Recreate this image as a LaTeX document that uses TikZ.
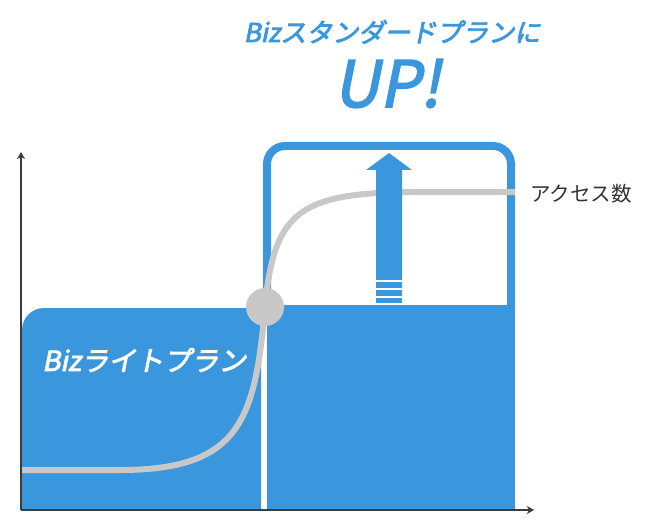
\documentclass[tikz,border=0pt]{standalone}
\usepackage{fontspec}
\usetikzlibrary{arrows.meta}
\newfontfamily\jp{Noto Sans CJK JP}
\newfontfamily\jpit{Noto Sans CJK JP}[FakeSlant=0.2, FakeBold=3]
\newfontfamily\jpup{Noto Sans CJK JP}[FakeSlant=0.2, FakeBold=2.5]
\definecolor{bblue}{HTML}{3A97DD}
\definecolor{cgray}{HTML}{C8C8C8}
\definecolor{axisgray}{HTML}{3C3C3C}
\definecolor{txtgray}{HTML}{333333}
\tikzset{
  axisline/.style={draw=axisgray, line width=1.4pt, -{Stealth[length=7pt,width=8pt,inset=2pt]}},
  planfill/.style={fill=bblue},
  curveline/.style={draw=cgray, line width=6pt},
  stripe/.style={draw=white, line width=1.3pt},
}
\begin{document}
\begin{tikzpicture}[x=1pt,y=-1pt]
\useasboundingbox (0,0) rectangle (648,532);
% coordinates
\coordinate (O) at (21,510);
\coordinate (ytop) at (21,152);
\coordinate (xend) at (534,510);
% left block (Bizライトプラン)
\fill[planfill] (22,509) -- (22,330) arc[start angle=180, end angle=270, radius=22]
  -- (245,308) arc[start angle=270, end angle=360, radius=16] -- (261,509) -- cycle;
% standard plan frame
\draw[bblue, line width=8pt, rounded corners=18pt] (267,306) -- (267,146) -- (511,146) -- (511,306);
% right block
\fill[planfill] (267,305) rectangle (515,509);
% access curve
\coordinate (c0) at (21,470);
\coordinate (c1) at (120,470);
\coordinate (cm) at (265,307);
\coordinate (c3) at (420,192);
\coordinate (c4) at (515,192);
\draw[curveline] (c0) -- (c1) .. controls (240,470) and (255,420) .. (cm)
  .. controls (274,210) and (300,192) .. (c3) -- (c4);
% up arrow
\fill[planfill] (376,306) -- (376,170) -- (366,170) -- (389,153) -- (412,170) -- (402,170) -- (402,306) -- cycle;
\foreach \yy in {281,289,297,304} \draw[stripe] (376,\yy) -- (402,\yy);
% switch point
\node[circle, fill=cgray, minimum size=38pt, inner sep=0pt] (pt) at (cm) {};
% axes
\draw[axisline] (O) -- (ytop);
\draw[axisline] (O) -- (xend);
% texts
\node[anchor=base, text=bblue, font=\jpit\fontsize{26}{30}\selectfont, inner sep=0pt] (title) at (392,42) {Bizスタンダードプランに};
\node[anchor=base, text=bblue, font=\jpup\fontsize{64}{70}\selectfont, inner sep=0pt] (up) at (387,107) {UP!};
\node[anchor=west, text=white, font=\jpit\fontsize{27.5}{32}\selectfont, inner sep=0pt] (lite) at (42,360) {Bizライトプラン};
\node[anchor=west, text=txtgray, font=\jp\fontsize{20.5}{24}\selectfont, inner sep=0pt] (acc) at (530,194) {アクセス数};
\end{tikzpicture}
\end{document}
